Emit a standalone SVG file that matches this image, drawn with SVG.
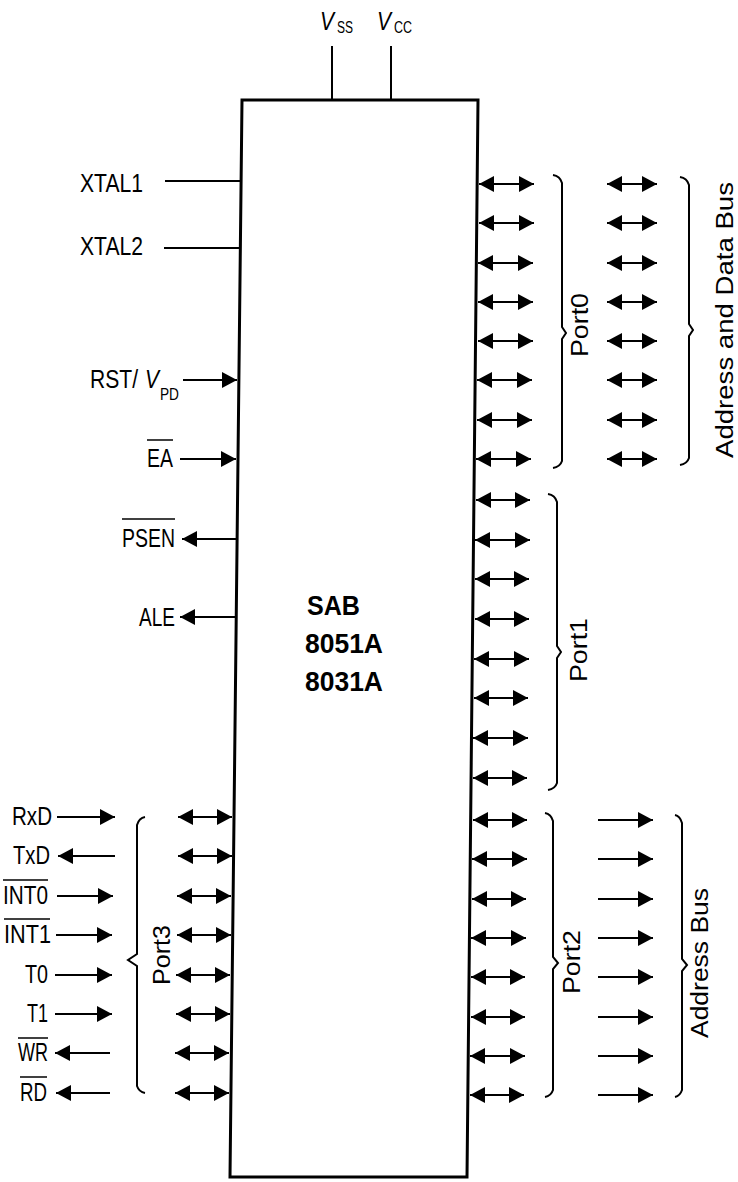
<svg xmlns="http://www.w3.org/2000/svg" width="738" height="1182" viewBox="0 0 738 1182">
<style>
.lbl{font-family:"Liberation Sans",Arial,sans-serif;font-size:25px;fill:#000}
.rot{font-family:"Liberation Sans",Arial,sans-serif;font-size:23px;fill:#000}
.sub{font-family:"Liberation Sans",Arial,sans-serif;font-size:16px;fill:#000}
.it{font-family:"Liberation Sans",Arial,sans-serif;font-size:26px;font-style:italic;fill:#000}
.chip{font-family:"Liberation Sans",Arial,sans-serif;font-size:27px;font-weight:bold;fill:#000}
.w{stroke:#000;stroke-width:2;fill:none}
.a{stroke:#000;stroke-width:2;fill:none;marker-end:url(#ah)}
.b{stroke:#000;stroke-width:2;fill:none;marker-start:url(#ah);marker-end:url(#ah)}
.ov{stroke:#000;stroke-width:1.5}
.br{stroke:#000;stroke-width:2;fill:none;stroke-linejoin:miter}
</style>
<defs>
<marker id="ah" viewBox="0 0 15 16" refX="15" refY="8" markerWidth="15" markerHeight="16" markerUnits="userSpaceOnUse" orient="auto-start-reverse"><path d="M0,0 L15,8 L0,16 Z" fill="#000"/></marker>
</defs>

<g id="chip">
<path d="M242,100 L478,100 L467,1177 L230,1177 Z" fill="none" stroke="#000" stroke-width="3"/>
<text class="chip" x="307" y="615" textLength="53" lengthAdjust="spacingAndGlyphs">SAB</text>
<text class="chip" x="305" y="653" textLength="78" lengthAdjust="spacingAndGlyphs">8051A</text>
<text class="chip" x="305" y="691" textLength="78" lengthAdjust="spacingAndGlyphs">8031A</text>
</g>

<g id="vss">
<text class="it" x="320" y="30" textLength="14" lengthAdjust="spacingAndGlyphs">V</text>
<text class="sub" x="337" y="33" textLength="16" lengthAdjust="spacingAndGlyphs">SS</text>
</g>
<g id="vcc">
<text class="it" x="377" y="30" textLength="14" lengthAdjust="spacingAndGlyphs">V</text>
<text class="sub" x="394" y="33" textLength="18" lengthAdjust="spacingAndGlyphs">CC</text>
</g>

<g id="left-labels">
<text class="lbl" x="90" y="388" textLength="48" lengthAdjust="spacingAndGlyphs">RST/</text>
<text class="lbl" x="145" y="388" font-style="italic" textLength="14" lengthAdjust="spacingAndGlyphs">V</text>
<text class="sub" x="160" y="400" textLength="19" lengthAdjust="spacingAndGlyphs">PD</text>
<text class="lbl" x="80" y="192" textLength="63" lengthAdjust="spacingAndGlyphs">XTAL1</text>
<text class="lbl" x="80" y="255" textLength="63" lengthAdjust="spacingAndGlyphs">XTAL2</text>
<text class="lbl" x="147" y="467" textLength="26" lengthAdjust="spacingAndGlyphs">EA</text>
<line class="ov" x1="147" y1="440" x2="173" y2="440"/>
<text class="lbl" x="122" y="547" textLength="53" lengthAdjust="spacingAndGlyphs">PSEN</text>
<line class="ov" x1="122" y1="519" x2="175" y2="519"/>
<text class="lbl" x="139" y="626" textLength="36" lengthAdjust="spacingAndGlyphs">ALE</text>
</g>

<g id="port3-labels">
<text class="lbl" x="12" y="825" textLength="40" lengthAdjust="spacingAndGlyphs">RxD</text>
<text class="lbl" x="13" y="864" textLength="37" lengthAdjust="spacingAndGlyphs">TxD</text>
<text class="lbl" x="3" y="904" textLength="45" lengthAdjust="spacingAndGlyphs">INT0</text>
<line class="ov" x1="3" y1="880" x2="48" y2="880"/>
<text class="lbl" x="4" y="943" textLength="47" lengthAdjust="spacingAndGlyphs">INT1</text>
<line class="ov" x1="4" y1="919" x2="50" y2="919"/>
<text class="lbl" x="25" y="983" textLength="23" lengthAdjust="spacingAndGlyphs">T0</text>
<text class="lbl" x="27" y="1022" textLength="21" lengthAdjust="spacingAndGlyphs">T1</text>
<text class="lbl" x="18" y="1061" textLength="30" lengthAdjust="spacingAndGlyphs">WR</text>
<line class="ov" x1="18" y1="1038" x2="48" y2="1038"/>
<text class="lbl" x="20" y="1101" textLength="27" lengthAdjust="spacingAndGlyphs">RD</text>
<line class="ov" x1="20" y1="1077" x2="47" y2="1077"/>
</g>

<g id="bus-labels">
<text class="rot" transform="translate(588,325) rotate(-90)" text-anchor="middle" textLength="64" lengthAdjust="spacingAndGlyphs">Port0</text>
<text class="rot" transform="translate(733,320) rotate(-90)" text-anchor="middle" textLength="276" lengthAdjust="spacingAndGlyphs">Address and Data Bus</text>
<text class="rot" transform="translate(587,650) rotate(-90)" text-anchor="middle" textLength="64" lengthAdjust="spacingAndGlyphs">Port1</text>
<text class="rot" transform="translate(580,962) rotate(-90)" text-anchor="middle" textLength="64" lengthAdjust="spacingAndGlyphs">Port2</text>
<text class="rot" transform="translate(708,963) rotate(-90)" text-anchor="middle" textLength="150" lengthAdjust="spacingAndGlyphs">Address Bus</text>
<text class="rot" transform="translate(170,955) rotate(-90)" text-anchor="middle" textLength="60" lengthAdjust="spacingAndGlyphs">Port3</text>
</g>

<g id="braces">
<path class="br" d="M553,175 Q560,176 562,183 L562,327 L566,333 L562,339 L562,461 Q560,467 553,468"/>
<path class="br" d="M680,177 Q687,178 689,185 L689,324 L693,330 L689,336 L689,458 Q687,464 680,465"/>
<path class="br" d="M548,494 Q555,495 557,502 L557,646 L561,652 L557,658 L557,783 Q555,789 548,790"/>
<path class="br" d="M545,813 Q551,814 553,821 L553,957 L558,963 L553,969 L553,1090 Q551,1096 545,1097"/>
<path class="br" d="M675,815 Q680,816 682,823 L682,959 L687,965 L682,971 L682,1090 Q680,1096 675,1097"/>
<path class="br" d="M145,817 Q139,818 137,825 L137,954 L128,960 L137,966 L137,1086 Q139,1092 145,1093"/>
</g>

<g id="connectors">
<line class="w" x1="332" y1="46" x2="332" y2="100"/>
<line class="w" x1="391" y1="46" x2="391" y2="100"/>
<line class="w" x1="165" y1="181" x2="241" y2="181"/>
<line class="w" x1="164" y1="248" x2="240" y2="248"/>
<line class="a" x1="183" y1="380" x2="237" y2="380"/>
<line class="a" x1="180" y1="459" x2="236" y2="459"/>
<line class="a" x1="236" y1="539" x2="182" y2="539"/>
<line class="a" x1="235" y1="617" x2="180" y2="617"/>

<line class="b" x1="479" y1="184" x2="534" y2="184"/>
<line class="b" x1="479" y1="223" x2="534" y2="223"/>
<line class="b" x1="478" y1="263" x2="533" y2="263"/>
<line class="b" x1="478" y1="302" x2="533" y2="302"/>
<line class="b" x1="478" y1="341" x2="533" y2="341"/>
<line class="b" x1="477" y1="380" x2="532" y2="380"/>
<line class="b" x1="477" y1="420" x2="532" y2="420"/>
<line class="b" x1="476" y1="459" x2="531" y2="459"/>

<line class="b" x1="607" y1="184" x2="657" y2="184"/>
<line class="b" x1="607" y1="223" x2="657" y2="223"/>
<line class="b" x1="607" y1="263" x2="657" y2="263"/>
<line class="b" x1="607" y1="302" x2="657" y2="302"/>
<line class="b" x1="607" y1="341" x2="657" y2="341"/>
<line class="b" x1="607" y1="380" x2="657" y2="380"/>
<line class="b" x1="607" y1="420" x2="657" y2="420"/>
<line class="b" x1="607" y1="459" x2="657" y2="459"/>

<line class="b" x1="476" y1="500" x2="530" y2="500"/>
<line class="b" x1="475" y1="540" x2="530" y2="540"/>
<line class="b" x1="475" y1="579" x2="529" y2="579"/>
<line class="b" x1="475" y1="619" x2="529" y2="619"/>
<line class="b" x1="474" y1="659" x2="529" y2="659"/>
<line class="b" x1="474" y1="698" x2="528" y2="698"/>
<line class="b" x1="473" y1="738" x2="528" y2="738"/>
<line class="b" x1="473" y1="778" x2="527" y2="778"/>

<line class="b" x1="473" y1="820" x2="527" y2="820"/>
<line class="b" x1="472" y1="859" x2="527" y2="859"/>
<line class="b" x1="472" y1="899" x2="526" y2="899"/>
<line class="b" x1="471" y1="938" x2="526" y2="938"/>
<line class="b" x1="471" y1="977" x2="525" y2="977"/>
<line class="b" x1="471" y1="1017" x2="525" y2="1017"/>
<line class="b" x1="470" y1="1056" x2="525" y2="1056"/>
<line class="b" x1="470" y1="1095" x2="524" y2="1095"/>

<line class="a" x1="598" y1="820" x2="653" y2="820"/>
<line class="a" x1="598" y1="859" x2="653" y2="859"/>
<line class="a" x1="598" y1="899" x2="653" y2="899"/>
<line class="a" x1="598" y1="938" x2="653" y2="938"/>
<line class="a" x1="598" y1="977" x2="653" y2="977"/>
<line class="a" x1="598" y1="1017" x2="653" y2="1017"/>
<line class="a" x1="598" y1="1056" x2="653" y2="1056"/>
<line class="a" x1="598" y1="1095" x2="653" y2="1095"/>

<line class="b" x1="178" y1="817" x2="232" y2="817"/>
<line class="b" x1="178" y1="856" x2="232" y2="856"/>
<line class="b" x1="177" y1="896" x2="231" y2="896"/>
<line class="b" x1="177" y1="935" x2="231" y2="935"/>
<line class="b" x1="176" y1="975" x2="230" y2="975"/>
<line class="b" x1="176" y1="1014" x2="230" y2="1014"/>
<line class="b" x1="175" y1="1053" x2="229" y2="1053"/>
<line class="b" x1="175" y1="1093" x2="229" y2="1093"/>

<line class="a" x1="57" y1="817" x2="115" y2="817"/>
<line class="a" x1="115" y1="856" x2="58" y2="856"/>
<line class="a" x1="57" y1="896" x2="113" y2="896"/>
<line class="a" x1="56" y1="935" x2="112" y2="935"/>
<line class="a" x1="55" y1="975" x2="112" y2="975"/>
<line class="a" x1="55" y1="1014" x2="112" y2="1014"/>
<line class="a" x1="110" y1="1053" x2="55" y2="1053"/>
<line class="a" x1="110" y1="1093" x2="56" y2="1093"/>
</g>
</svg>
